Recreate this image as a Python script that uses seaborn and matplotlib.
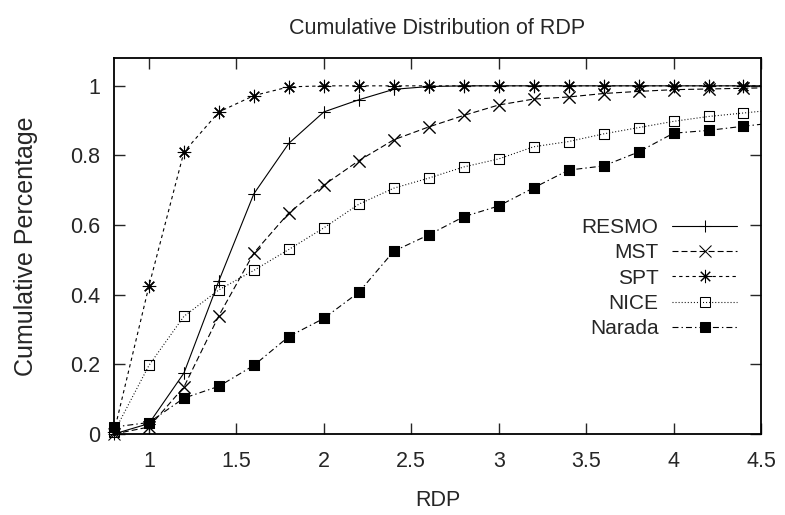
import matplotlib
matplotlib.use("Agg")
import matplotlib.pyplot as plt
import seaborn as sns

# RDP sample points (last one lies just past the right border, so the lines run to the edge)
rdp = [0.8, 1.0, 1.2, 1.4, 1.6, 1.8, 2.0, 2.2, 2.4, 2.6, 2.8, 3.0, 3.2, 3.4, 3.6, 3.8, 4.0, 4.2, 4.4, 4.6]

resmo = [0.0, 0.03, 0.175, 0.44, 0.69, 0.835, 0.925, 0.96, 0.99, 0.998, 1.0, 1.0, 1.0, 1.0, 1.0, 1.0, 1.0, 1.0, 1.0, 1.0]
mst = [0.0, 0.02, 0.135, 0.34, 0.52, 0.635, 0.715, 0.785, 0.845, 0.882, 0.915, 0.945, 0.962, 0.968, 0.978, 0.984, 0.989, 0.991, 0.993, 0.995]
spt = [0.005, 0.425, 0.81, 0.925, 0.972, 0.997, 1.0, 1.0, 1.0, 1.0, 1.0, 1.0, 1.0, 1.0, 1.0, 1.0, 1.0, 1.0, 1.0, 1.0]
nice = [0.005, 0.197, 0.338, 0.414, 0.47, 0.53, 0.592, 0.66, 0.706, 0.735, 0.767, 0.79, 0.825, 0.84, 0.862, 0.88, 0.898, 0.912, 0.922, 0.932]
narada = [0.02, 0.033, 0.103, 0.137, 0.197, 0.28, 0.332, 0.407, 0.525, 0.572, 0.624, 0.655, 0.707, 0.758, 0.77, 0.81, 0.864, 0.872, 0.884, 0.895]

names = ["RESMO", "MST", "SPT", "NICE", "Narada"]
series = [resmo, mst, spt, nice, narada]

x_ticks = [1, 1.5, 2, 2.5, 3, 3.5, 4, 4.5]
x_ticklabels = ["1", "1.5", "2", "2.5", "3", "3.5", "4", "4.5"]
y_ticks = [0, 0.2, 0.4, 0.6, 0.8, 1.0]
y_ticklabels = ["0", "0.2", "0.4", "0.6", "0.8", "1"]

# gnuplot-ish look: black lines, dash patterns, point types
styles = [
    dict(linestyle="-", marker="+", markersize=9, markerfacecolor="k"),
    dict(linestyle=(0, (4.3, 2.2)), marker="x", markersize=9, markerfacecolor="k"),
    dict(linestyle=(0, (2.4, 2.4)), marker=(8, 2, 0), markersize=9.5, markerfacecolor="k"),
    dict(linestyle=(0, (0.7, 1.5)), marker="s", markersize=7, markerfacecolor="none"),
    dict(linestyle=(0, (4.3, 2.2, 1.0, 2.2)), marker="s", markersize=7.5, markerfacecolor="k"),
]

sns.set_style("ticks")
plt.rcParams["font.family"] = ["Liberation Sans", "DejaVu Sans"]
plt.rcParams["lines.scale_dashes"] = False

fig = plt.figure(figsize=(7.85, 5.15), dpi=100)
ax = fig.add_axes([0.1452, 0.1573, 0.8242, 0.7301])

for name, vals, st in zip(names, series, styles):
    # line (clipped at the border) with the legend entry
    sns.lineplot(x=rdp, y=vals, ax=ax, color="k", lw=0.8, label=name,
                 markeredgecolor="k", markeredgewidth=0.75, **st)
    # points inside the x range drawn again unclipped, like gnuplot does
    pts = [(a, b) for a, b in zip(rdp, vals) if a <= 4.5]
    mk = dict(st)
    mk["linestyle"] = "none"
    sns.lineplot(x=[p[0] for p in pts], y=[p[1] for p in pts], ax=ax, color="k",
                 clip_on=False, markeredgecolor="k", markeredgewidth=0.75, **mk)

ax.set_xlim(0.8, 4.5)
ax.set_ylim(0, 1.08)
ax.set_xticks(x_ticks, labels=x_ticklabels)
ax.set_yticks(y_ticks, labels=y_ticklabels)
ax.tick_params(direction="in", length=8, width=1, top=True, right=True, labelsize=15.5)
ax.tick_params(axis="x", pad=12)
ax.tick_params(axis="y", pad=10)
for sp in ax.spines.values():
    sp.set_linewidth(1.3)
    sp.set_color("k")

ax.set_xlabel("RDP", fontsize=15.5)
ax.set_ylabel("Cumulative Percentage", fontsize=18)
ax.xaxis.set_label_coords(0.5, -0.149)
ax.yaxis.set_label_coords(-0.117, 0.5)
ax.set_title("Cumulative Distribution of RDP", fontsize=15.5, pad=17)

handles, labels = ax.get_legend_handles_labels()
ax.legend(handles[:5], labels[:5], loc="upper right", bbox_to_anchor=(0.963, 0.574),
          frameon=False, markerfirst=False, fontsize=15, handlelength=3.1,
          handletextpad=0.67, labelspacing=0.3, borderpad=0, borderaxespad=0)

fig.savefig("out.png", dpi=100)
